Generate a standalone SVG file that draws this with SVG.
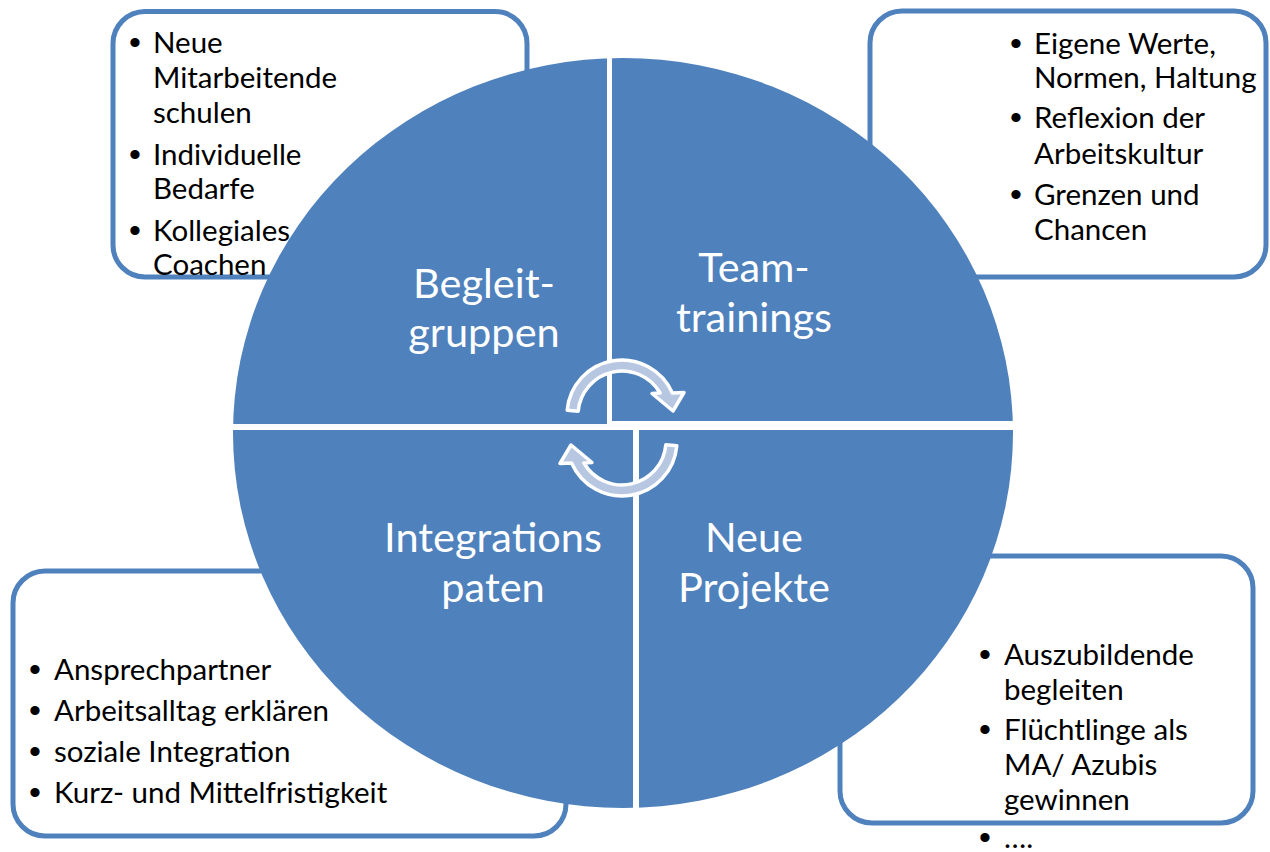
<svg xmlns="http://www.w3.org/2000/svg" width="1270" height="852" viewBox="0 0 1270 852">
  <style>
    .box { fill: #FFFFFF; stroke: #4F81BD; stroke-width: 5; }
    .item { font-family: Lato, "Liberation Sans", sans-serif; font-size: 29.5px; fill: #000000; }
    .dot { font-family: "Liberation Sans", sans-serif; font-size: 34px; fill: #000000; }
    .label { font-family: Lato, "Liberation Sans", sans-serif; font-size: 41.5px; fill: #FFFFFF; text-anchor: middle; }
    .quad { fill: #4F81BD; }
    .cycle { fill: #B7C6E1; stroke: #FFFFFF; stroke-width: 3.5; stroke-linejoin: round; }
  </style>
  <defs>
    <clipPath id="disc">
      <ellipse cx="623" cy="433" rx="390" ry="375"/>
    </clipPath>
    <!-- curved arrow, centred on its own arc centre -->
    <path id="turn" d="M -54.8 -4.8 A 55 55 0 0 1 50.4 -22 L 62 -22.5 L 51 -4 L 30 -21.5 L 38.1 -22 A 44 44 0 0 0 -43.8 -3.8 Z"/>
  </defs>
  <rect width="1270" height="852" fill="#FFFFFF"/>

  <!-- detail boxes -->
  <g id="box-begleitgruppen">
    <rect class="box" x="113" y="11.5" width="414" height="265.5" rx="32"/>
    <text class="dot"><tspan x="129" y="54">•</tspan><tspan x="129" y="166">•</tspan><tspan x="129" y="242">•</tspan></text>
    <text class="item">
      <tspan x="153" y="53">Neue</tspan>
      <tspan x="153" y="88">Mitarbeitende</tspan>
      <tspan x="153" y="123">schulen</tspan>
      <tspan x="153" y="165">Individuelle</tspan>
      <tspan x="153" y="199">Bedarfe</tspan>
      <tspan x="153" y="241">Kollegiales</tspan>
      <tspan x="153" y="275">Coachen</tspan>
    </text>
  </g>
  <g id="box-teamtrainings">
    <rect class="box" x="870" y="11" width="396" height="266" rx="32"/>
    <text class="dot"><tspan x="1010" y="55">•</tspan><tspan x="1010" y="129">•</tspan><tspan x="1010" y="206">•</tspan></text>
    <text class="item">
      <tspan x="1034" y="54">Eigene Werte,</tspan>
      <tspan x="1034" y="88">Normen, Haltung</tspan>
      <tspan x="1034" y="128">Reflexion der</tspan>
      <tspan x="1034" y="164">Arbeitskultur</tspan>
      <tspan x="1034" y="205">Grenzen und</tspan>
      <tspan x="1034" y="240">Chancen</tspan>
    </text>
  </g>
  <g id="box-integrationspaten">
    <rect class="box" x="13" y="571" width="553" height="265" rx="32"/>
    <text class="dot"><tspan x="29" y="681">•</tspan><tspan x="29" y="722">•</tspan><tspan x="29" y="763">•</tspan><tspan x="29" y="804">•</tspan></text>
    <text class="item">
      <tspan x="54" y="680">Ansprechpartner</tspan>
      <tspan x="54" y="721">Arbeitsalltag erklären</tspan>
      <tspan x="54" y="762">soziale Integration</tspan>
      <tspan x="54" y="803">Kurz- und Mittelfristigkeit</tspan>
    </text>
  </g>
  <g id="box-neue-projekte">
    <rect class="box" x="840" y="556" width="413" height="267" rx="32"/>
    <text class="dot"><tspan x="979" y="666">•</tspan><tspan x="979" y="741">•</tspan><tspan x="979" y="849">•</tspan></text>
    <text class="item">
      <tspan x="1004" y="665">Auszubildende</tspan>
      <tspan x="1004" y="700">begleiten</tspan>
      <tspan x="1004" y="740">Flüchtlinge als</tspan>
      <tspan x="1004" y="775">MA/ Azubis</tspan>
      <tspan x="1004" y="810">gewinnen</tspan>
      <tspan x="1004" y="848">….</tspan>
    </text>
  </g>

  <!-- quadrants of the cycle disc -->
  <g clip-path="url(#disc)">
    <g id="quad-begleitgruppen"><rect class="quad" x="0" y="0" width="607" height="424"/></g>
    <g id="quad-teamtrainings"><rect class="quad" x="612" y="0" width="658" height="421"/></g>
    <g id="quad-integrationspaten"><rect class="quad" x="0" y="430" width="633" height="422"/></g>
    <g id="quad-neue-projekte"><rect class="quad" x="639" y="430" width="631" height="422"/></g>
  </g>

  <!-- cycle arrows -->
  <g id="connectors">
    <use href="#turn" class="cycle" transform="translate(622 415)"/>
    <use href="#turn" class="cycle" transform="rotate(180 622 428) translate(622 415)"/>
  </g>

  <!-- quadrant titles -->
  <g id="labels">
    <text class="label"><tspan x="484" y="298">Begleit-</tspan><tspan x="484" y="347">gruppen</tspan></text>
    <text class="label"><tspan x="754" y="282">Team-</tspan><tspan x="754" y="332">trainings</tspan></text>
    <text class="label"><tspan x="493" y="552">Integrations</tspan><tspan x="493" y="602">paten</tspan></text>
    <text class="label"><tspan x="754" y="552">Neue</tspan><tspan x="754" y="602">Projekte</tspan></text>
  </g>
</svg>
